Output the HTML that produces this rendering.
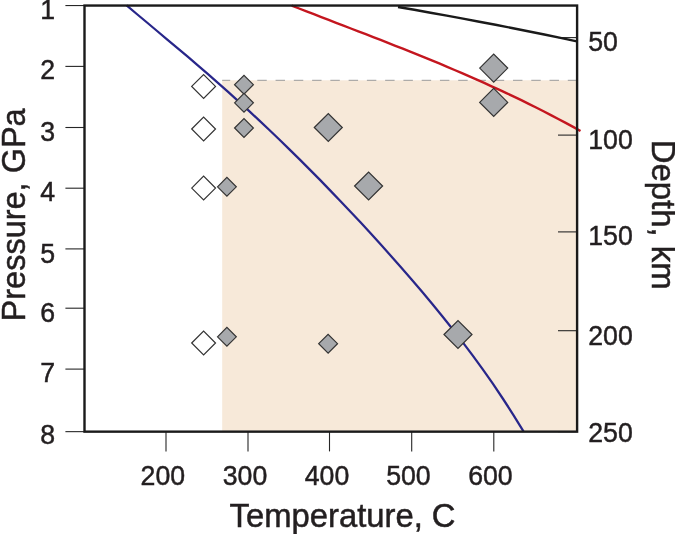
<!DOCTYPE html>
<html><head><meta charset="utf-8"><title>P-T diagram</title>
<style>
html,body{margin:0;padding:0;background:#fff;}
svg{display:block;font-family:"Liberation Sans",sans-serif;}
.tk line{stroke:#262626;stroke-width:1.1;}
.lb text{font-size:26.7px;fill:#231f20;stroke:#231f20;stroke-width:0.45;}
.ax text{font-size:32.4px;fill:#231f20;stroke:#231f20;stroke-width:0.5;}
</style></head><body>
<svg width="675" height="534" viewBox="0 0 675 534">
<rect x="0" y="0" width="675" height="534" fill="#ffffff"/>
<rect x="222.2" y="80.3" width="354.8" height="351.2" fill="#f7e9d9"/>
<line x1="222.2" x2="577" y1="80.3" y2="80.3" stroke="#9a9a9a" stroke-width="1" stroke-dasharray="9.45 8.815" stroke-dashoffset="1.43"/>
<g class="tk"><line x1="65.4" x2="84.5" y1="5.55" y2="5.55"/><line x1="65.4" x2="84.5" y1="66.4" y2="66.4"/><line x1="65.4" x2="84.5" y1="127.5" y2="127.5"/><line x1="65.4" x2="84.5" y1="188.2" y2="188.2"/><line x1="65.4" x2="84.5" y1="248.9" y2="248.9"/><line x1="65.4" x2="84.5" y1="308.2" y2="308.2"/><line x1="65.4" x2="84.5" y1="369.1" y2="369.1"/><line x1="65.4" x2="84.5" y1="431.65" y2="431.65"/><line x1="558" x2="577" y1="37.6" y2="37.6"/><line x1="558" x2="577" y1="135.1" y2="135.1"/><line x1="558" x2="577" y1="231.9" y2="231.9"/><line x1="558" x2="577" y1="330.7" y2="330.7"/><line x1="558" x2="577" y1="431.6" y2="431.6"/><line x1="166" x2="166" y1="431.5" y2="451.4"/><line x1="248" x2="248" y1="431.5" y2="451.4"/><line x1="329.5" x2="329.5" y1="431.5" y2="451.4"/><line x1="411.7" x2="411.7" y1="431.5" y2="451.4"/><line x1="493.8" x2="493.8" y1="431.5" y2="451.4"/></g>
<path d="M126.6,5.3 L136.8,14.0 L147.0,22.5 L157.1,31.0 L167.3,39.6 L177.5,48.1 L187.7,56.7 L197.8,65.4 L208.0,74.2 L218.2,83.1 L228.4,92.2 L238.5,101.4 L248.7,110.7 L258.9,120.1 L269.1,129.7 L279.3,139.5 L289.4,149.4 L299.6,159.4 L309.8,169.6 L320.0,179.9 L330.1,190.4 L340.3,201.0 L350.5,211.7 L360.7,222.6 L370.8,233.6 L381.0,244.8 L391.2,256.2 L401.4,267.7 L411.6,279.4 L421.7,291.3 L431.9,303.5 L442.1,316.0 L452.3,328.8 L462.4,341.9 L472.6,355.4 L482.8,369.4 L493.0,383.9 L503.1,399.0 L513.3,414.8 L523.5,431.3" fill="none" stroke="#28268a" stroke-width="2.25"/>
<path d="M291.7,5.6 L299.1,8.5 L306.5,11.4 L313.9,14.2 L321.3,17.1 L328.7,19.9 L336.1,22.8 L343.5,25.6 L350.9,28.5 L358.3,31.3 L365.8,34.2 L373.2,37.1 L380.6,39.9 L388.0,42.8 L395.4,45.8 L402.8,48.7 L410.2,51.6 L417.6,54.6 L425.0,57.6 L432.4,60.7 L439.8,63.7 L447.2,66.8 L454.6,70.0 L462.0,73.1 L469.4,76.4 L476.8,79.6 L484.2,82.9 L491.6,86.3 L499.0,89.7 L506.4,93.1 L513.9,96.6 L521.3,100.2 L528.7,103.8 L536.1,107.5 L543.5,111.3 L550.9,115.1 L558.3,119.0 L565.7,122.9 L573.1,126.9 L580.5,131.0" fill="none" stroke="#c4161f" stroke-width="2.4"/>
<path d="M398.0,7.0 L414.3,9.8 L430.5,12.7 L446.8,15.6 L463.0,18.6 L479.3,21.7 L495.5,24.8 L511.8,28.0 L528.0,31.2 L544.3,34.5 L560.5,37.9 L576.8,41.3" fill="none" stroke="#1a1a1a" stroke-width="2.4"/>
<g><polygon points="191.7,86.4 203.6,74.5 215.5,86.4 203.6,98.3" fill="#ffffff" stroke="#333333" stroke-width="1.2" stroke-linejoin="miter"/><polygon points="191.7,129.0 203.6,117.1 215.5,129.0 203.6,140.9" fill="#ffffff" stroke="#333333" stroke-width="1.2" stroke-linejoin="miter"/><polygon points="191.7,188.1 203.6,176.2 215.5,188.1 203.6,200.0" fill="#ffffff" stroke="#333333" stroke-width="1.2" stroke-linejoin="miter"/><polygon points="191.7,343.0 203.6,331.1 215.5,343.0 203.6,354.9" fill="#ffffff" stroke="#333333" stroke-width="1.2" stroke-linejoin="miter"/><polygon points="234.6,84.7 244.0,75.3 253.4,84.7 244.0,94.1" fill="#a7a9ac" stroke="#333333" stroke-width="1.2" stroke-linejoin="miter"/><polygon points="234.6,102.8 244.0,93.4 253.4,102.8 244.0,112.2" fill="#a7a9ac" stroke="#333333" stroke-width="1.2" stroke-linejoin="miter"/><polygon points="234.6,128.0 244.0,118.6 253.4,128.0 244.0,137.4" fill="#a7a9ac" stroke="#333333" stroke-width="1.2" stroke-linejoin="miter"/><polygon points="217.5,186.8 226.9,177.4 236.3,186.8 226.9,196.2" fill="#a7a9ac" stroke="#333333" stroke-width="1.2" stroke-linejoin="miter"/><polygon points="217.5,336.8 226.9,327.4 236.3,336.8 226.9,346.2" fill="#a7a9ac" stroke="#333333" stroke-width="1.2" stroke-linejoin="miter"/><polygon points="318.7,343.7 328.1,334.3 337.5,343.7 328.1,353.1" fill="#a7a9ac" stroke="#333333" stroke-width="1.2" stroke-linejoin="miter"/><polygon points="314.3,127.5 328.3,113.5 342.3,127.5 328.3,141.5" fill="#a7a9ac" stroke="#333333" stroke-width="1.2" stroke-linejoin="miter"/><polygon points="354.6,186.0 368.6,172.0 382.6,186.0 368.6,200.0" fill="#a7a9ac" stroke="#333333" stroke-width="1.2" stroke-linejoin="miter"/><polygon points="444.0,334.5 458.0,320.5 472.0,334.5 458.0,348.5" fill="#a7a9ac" stroke="#333333" stroke-width="1.2" stroke-linejoin="miter"/><polygon points="479.7,68.1 493.7,54.1 507.7,68.1 493.7,82.1" fill="#a7a9ac" stroke="#333333" stroke-width="1.2" stroke-linejoin="miter"/><polygon points="479.7,102.4 493.7,88.4 507.7,102.4 493.7,116.4" fill="#a7a9ac" stroke="#333333" stroke-width="1.2" stroke-linejoin="miter"/></g>
<rect x="84.5" y="5.55" width="492.6" height="426.1" fill="none" stroke="#1a1a1a" stroke-width="2.4"/>
<g class="lb"><text transform="translate(55,19.4) scale(1,1.06)" text-anchor="end">1</text><text transform="translate(55,79.4) scale(1,1.06)" text-anchor="end">2</text><text transform="translate(55,140.7) scale(1,1.06)" text-anchor="end">3</text><text transform="translate(55,200.9) scale(1,1.06)" text-anchor="end">4</text><text transform="translate(55,263.3) scale(1,1.06)" text-anchor="end">5</text><text transform="translate(55,321.7) scale(1,1.06)" text-anchor="end">6</text><text transform="translate(55,381.6) scale(1,1.06)" text-anchor="end">7</text><text transform="translate(55,444.1) scale(1,1.06)" text-anchor="end">8</text><text transform="translate(588.2,50.8) scale(1,1.06)" text-anchor="start">50</text><text transform="translate(588.2,148.7) scale(1,1.06)" text-anchor="start">100</text><text transform="translate(588.2,245.3) scale(1,1.06)" text-anchor="start">150</text><text transform="translate(588.2,344.7) scale(1,1.06)" text-anchor="start">200</text><text transform="translate(588.2,441.7) scale(1,1.06)" text-anchor="start">250</text><text transform="translate(162.8,484.5) scale(1,1.06)" text-anchor="middle">200</text><text transform="translate(245,484.5) scale(1,1.06)" text-anchor="middle">300</text><text transform="translate(327,484.5) scale(1,1.06)" text-anchor="middle">400</text><text transform="translate(408.4,484.5) scale(1,1.06)" text-anchor="middle">500</text><text transform="translate(490.4,484.5) scale(1,1.06)" text-anchor="middle">600</text></g>
<g class="ax">
<text transform="translate(24.5,321.4) rotate(-90) scale(1,1.03)" style="font-size:32.5px">Pressure, GPa</text>
<text transform="translate(651.7,139.8) rotate(90) scale(1,1.03)" style="font-size:32.9px">Depth, km</text>
<text transform="translate(229.6,527.2) scale(1,1.03)" style="font-size:32.8px">Temperature, C</text>
</g>
</svg>
</body></html>
